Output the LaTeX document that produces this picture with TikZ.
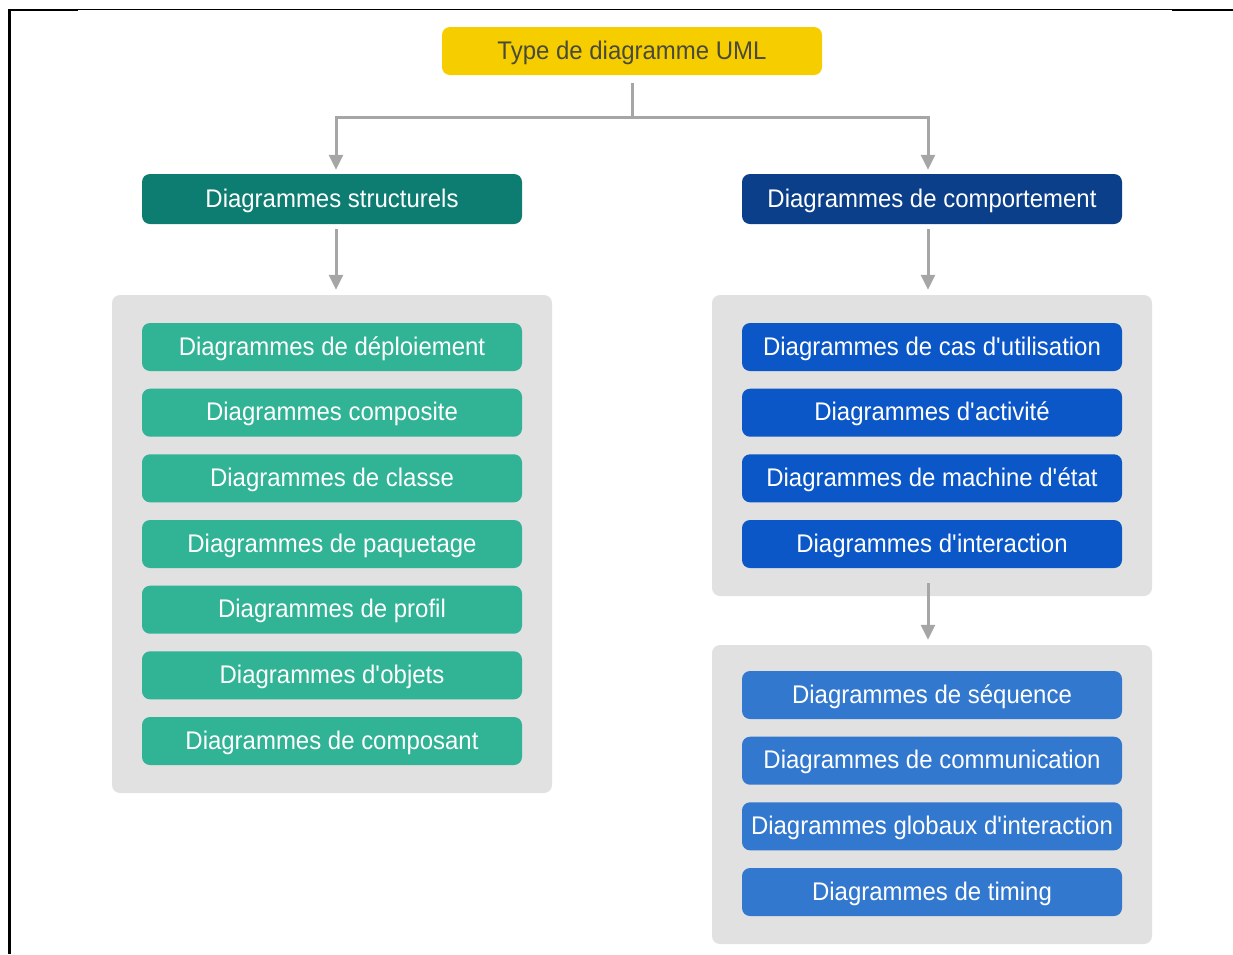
\documentclass[tikz,border=0pt]{standalone}
\usepackage{fontspec}
\setmainfont{Liberation Sans}
\newfontfamily\boxfont[FakeStretch=0.94]{Liberation Sans}
\usetikzlibrary{arrows.meta}

\definecolor{hdrYellow}{HTML}{F6CE00}
\definecolor{hdrTeal}{HTML}{0E7D71}
\definecolor{hdrNavy}{HTML}{0B3F8A}
\definecolor{itemMint}{HTML}{31B395}
\definecolor{itemBlue}{HTML}{0B57C8}
\definecolor{itemSky}{HTML}{3278CF}
\definecolor{panelGray}{HTML}{E1E1E1}
\definecolor{linkGray}{HTML}{A6A6A6}
\definecolor{titleInk}{HTML}{4A4A3A}

\tikzset{
  box/.style={rectangle, rounded corners=8pt, minimum width=380pt,
    minimum height=48pt, inner sep=0pt, text height=18pt, text depth=2pt,
    text=white, font=\boxfont\fontsize{25.5}{30}\selectfont},
  titlebox/.style={box, fill=hdrYellow, text=titleInk},
  headbox/.style={box, minimum height=50pt},
  mintbox/.style={box, fill=itemMint},
  bluebox/.style={box, fill=itemBlue},
  skybox/.style={box, fill=itemSky},
  panel/.style={rectangle, rounded corners=8pt, fill=panelGray,
    minimum width=440pt, inner sep=0pt},
  link/.style={draw=linkGray, line width=3pt},
  linkarrow/.style={link, -{Triangle[width=14pt,length=15pt]}},
}

\begin{document}
\begin{tikzpicture}[x=1pt,y=-1pt]
  \useasboundingbox (0,0) rectangle (1233,954);

  % page frame
  \draw[line width=1pt] (8,9.5) -- (1233,9.5);
  \draw[line width=2pt] (8,10) -- (78,10);
  \draw[line width=2pt] (1172,10) -- (1233,10);
  \draw[line width=3pt] (9.5,9) -- (9.5,954);

  % grey panels
  \node[panel, minimum height=498pt] (pl)  at (332,544)   {};
  \node[panel, minimum height=301pt] (pr1) at (932,445.5) {};
  \node[panel, minimum height=299pt] (pr2) at (932,794.5) {};

  % title and the two family headers
  \node[titlebox] (top) at (632,51) {Type de diagramme UML};
  \node[headbox, fill=hdrTeal] (hs) at (332,199) {Diagrammes structurels};
  \node[headbox, fill=hdrNavy] (hb) at (932,199) {Diagrammes de comportement};

  % structural diagrams
  \node[mintbox] (s1) at (332,347)   {Diagrammes de déploiement};
  \node[mintbox] (s2) at (332,412.7) {Diagrammes composite};
  \node[mintbox] (s3) at (332,478.3) {Diagrammes de classe};
  \node[mintbox] (s4) at (332,544)   {Diagrammes de paquetage};
  \node[mintbox] (s5) at (332,609.7) {Diagrammes de profil};
  \node[mintbox] (s6) at (332,675.3) {Diagrammes d\textquotesingle objets};
  \node[mintbox] (s7) at (332,741)   {Diagrammes de composant};

  % behavioural diagrams
  \node[bluebox] (b1) at (932,347)   {Diagrammes de cas d\textquotesingle utilisation};
  \node[bluebox] (b2) at (932,412.7) {Diagrammes d\textquotesingle activité};
  \node[bluebox] (b3) at (932,478.3) {Diagrammes de machine d\textquotesingle état};
  \node[bluebox] (b4) at (932,544)   {Diagrammes d\textquotesingle interaction};

  % interaction diagrams
  \node[skybox] (i1) at (932,695)   {Diagrammes de séquence};
  \node[skybox] (i2) at (932,760.7) {Diagrammes de communication};
  \node[skybox] (i3) at (932,826.3) {Diagrammes globaux d\textquotesingle interaction};
  \node[skybox] (i4) at (932,892)   {Diagrammes de timing};

  % connector guides
  \coordinate (fork) at (632,117);
  \coordinate (lx) at (336,0);
  \coordinate (rx) at (928,0);

  % connectors
  \draw[link, shorten <=8pt] (top.south) -- (fork);
  \draw[linkarrow, shorten >=4pt] (fork) -| (hs.north -| lx);
  \draw[linkarrow, shorten >=4pt] (fork) -| (hb.north -| rx);
  \draw[linkarrow, shorten <=5pt, shorten >=5pt] (hs.south -| lx) -- (pl.north -| lx);
  \draw[linkarrow, shorten <=5pt, shorten >=5pt] (hb.south -| rx) -- (pr1.north -| rx);
  \draw[linkarrow, shorten <=15pt, shorten >=5pt] (b4.south -| rx) -- (pr2.north -| rx);
\end{tikzpicture}
\end{document}
